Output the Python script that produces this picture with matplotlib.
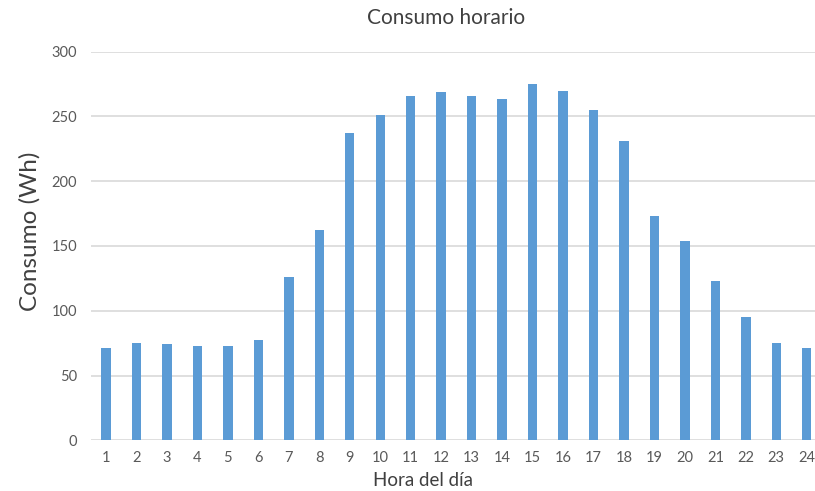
import matplotlib.pyplot as plt

horas = list(range(1, 25))
consumo = [71, 75, 74, 73, 73, 77.5, 126, 162, 237, 251.5, 266, 269,
           266, 263.5, 275, 269.5, 255, 231, 173.5, 154, 123, 95.5, 75, 71]
yticks = [0, 50, 100, 150, 200, 250, 300]

plt.rcParams['font.family'] = ['Lato', 'DejaVu Sans']

fig = plt.figure(figsize=(8.15, 4.91), dpi=100)
ax = fig.add_axes([0.1114, 0.1033, 0.8972, 0.7914])

ax.bar(horas, consumo, width=0.31, color='#5B9BD5', zorder=3)

ax.set_xlim(0.5, 24.5)
ax.set_ylim(0, 300)
ax.set_yticks(yticks)
ax.set_xticks(horas)
ax.grid(axis='y', color='#D9D9D9', linewidth=1.2, zorder=0)
for s in ax.spines.values():
    s.set_visible(False)
ax.tick_params(length=0, labelsize=10.5, colors='#595959', pad=8)
ax.tick_params(axis='y', pad=10)

fig.text(446 / 815, 1 - 18 / 491, 'Consumo horario', ha='center', va='center',
         fontsize=15, color='#404040')
fig.text(423 / 815, 1 - 481 / 491, 'Hora del día', ha='center', va='center',
         fontsize=13.5, color='#404040')
fig.text(30 / 815, 1 - 231 / 491, 'Consumo (Wh)', ha='center', va='center',
         rotation=90, fontsize=17.5, color='#404040')

fig.savefig('out.png', dpi=100)
